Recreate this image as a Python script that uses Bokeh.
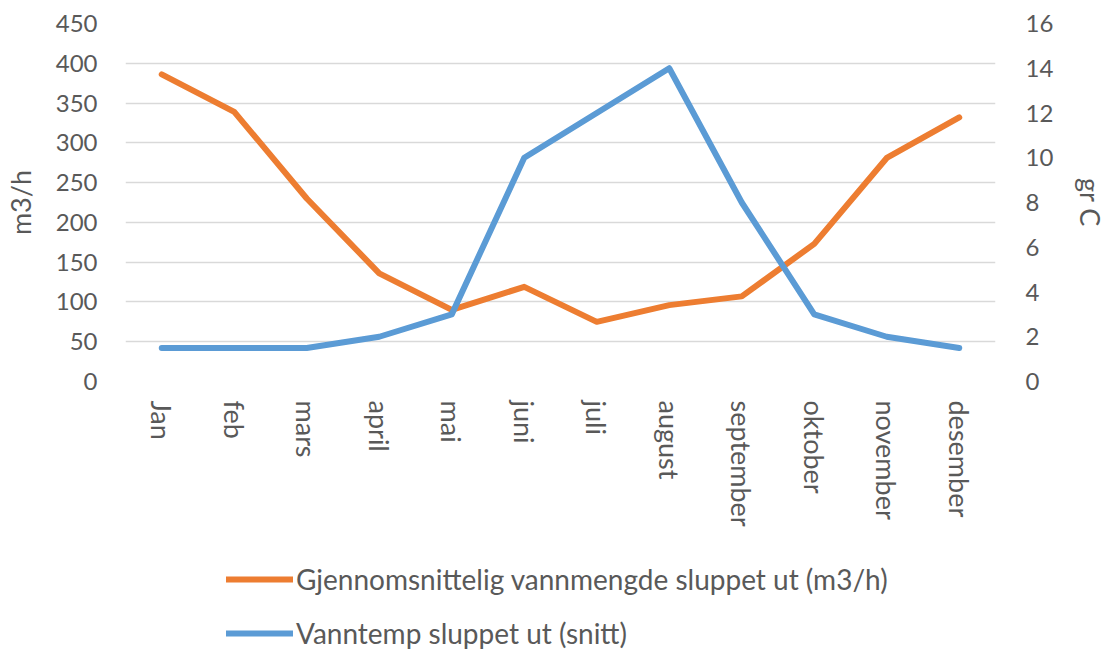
import math
from bokeh.plotting import figure
from bokeh.layouts import column
from bokeh.models import (FactorRange, Range1d, LinearAxis, FixedTicker, Legend,
                          LegendItem, ColumnDataSource)
from bokeh.embed import file_html
from bokeh.resources import INLINE

months = ["Jan", "feb", "mars", "april", "mai", "juni", "juli", "august",
          "september", "oktober", "november", "desember"]
flow = [386, 339, 230, 136, 90, 119, 75, 96, 107, 173, 281, 332]
temp = [1.5, 1.5, 1.5, 2.0, 3.0, 10.0, 12.0, 14.0, 8.0, 3.0, 2.0, 1.5]
flow_label = "Gjennomsnittelig vannmengde sluppet ut (m3/h)"
temp_label = "Vanntemp sluppet ut (snitt)"
left_ticks = list(range(0, 451, 50))
right_ticks = list(range(0, 17, 2))

FONT = "Lato"
TXT = "#595959"
ORANGE = "#ED7D31"
BLUE = "#5B9BD5"
W = 1110

p = figure(width=W, height=540, x_range=FactorRange(factors=months, range_padding=0),
           y_range=Range1d(0, 450), output_backend="svg", toolbar_location=None,
           min_border_left=125, min_border_right=106, min_border_top=23,
           min_border_bottom=159)
p.outline_line_color = None
p.background_fill_color = "white"
p.border_fill_color = "white"
p.extra_y_ranges = {"temp": Range1d(0, 16)}

src = ColumnDataSource(dict(m=months, flow=flow, temp=temp))
line_kw = dict(line_width=6, line_cap="round", line_join="round")
r1 = p.line("m", "flow", source=src, line_color=ORANGE, **line_kw)
r2 = p.line("m", "temp", source=src, line_color=BLUE, y_range_name="temp", **line_kw)

p.xgrid.grid_line_color = None
p.ygrid.grid_line_color = "#D9D9D9"
p.ygrid.grid_line_width = 1.5
p.ygrid.ticker = FixedTicker(ticks=left_ticks)

def style(ax):
    ax.axis_line_color = None
    ax.major_tick_line_color = None
    ax.minor_tick_line_color = None
    ax.major_tick_out = 0
    ax.major_tick_in = 0
    ax.minor_tick_out = 0
    ax.major_label_text_font = FONT
    ax.major_label_text_font_size = "24px"
    ax.major_label_text_color = TXT
    ax.axis_label_text_font = FONT
    ax.axis_label_text_font_size = "27px"
    ax.axis_label_text_color = TXT
    ax.axis_label_text_font_style = "normal"

yl = p.yaxis[0]
style(yl)
yl.ticker = FixedTicker(ticks=left_ticks)
yl.axis_label = "m3/h"
yl.major_label_standoff = 28
yl.axis_label_standoff = 16

yr = LinearAxis(y_range_name="temp", ticker=FixedTicker(ticks=right_ticks), axis_label="gr C")
style(yr)
yr.major_label_standoff = 30
yr.axis_label_standoff = 18
p.add_layout(yr, "right")

xa = p.xaxis[0]
style(xa)
xa.major_label_text_font_size = "27px"
xa.major_label_orientation = -math.pi / 2
xa.major_label_standoff = 19

# legend panel below the chart (same data, kept outside the visible y-range)
p2 = figure(width=W, height=110, x_range=FactorRange(factors=months, range_padding=0),
            y_range=Range1d(-2, -1), x_axis_type=None, y_axis_type=None,
            output_backend="svg", toolbar_location=None, min_border=0)
p2.outline_line_color = None
p2.grid.grid_line_color = None
p2.background_fill_color = "white"
p2.border_fill_color = "white"
l1 = p2.line("m", "flow", source=src, line_color=ORANGE, **line_kw)
l2 = p2.line("m", "temp", source=src, line_color=BLUE, **line_kw)

legend = Legend(items=[LegendItem(label=flow_label, renderers=[l1]),
                       LegendItem(label=temp_label, renderers=[l2])],
                location=(101, 0), orientation="vertical")
legend.label_text_font = FONT
legend.label_text_font_size = "28px"
legend.label_text_color = TXT
legend.glyph_width = 67
legend.glyph_height = 34
legend.label_height = 34
legend.label_standoff = 3
legend.spacing = 20
legend.padding = 0
legend.margin = 0
legend.border_line_color = None
legend.background_fill_alpha = 0
p2.add_layout(legend, "center")

open("out.html", "w").write(file_html(column(p, p2, spacing=0), INLINE))
